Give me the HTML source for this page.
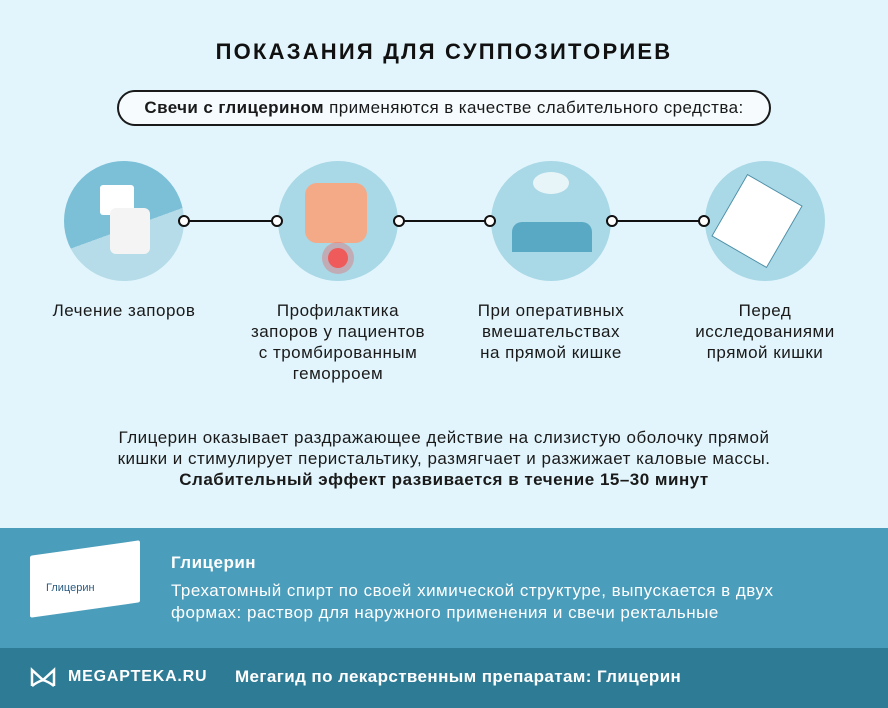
<!DOCTYPE html>
<html><head><meta charset="utf-8"><style>
body{margin:0;width:888px;height:708px;background:#e2f5fc;font-family:"Liberation Sans",sans-serif;color:#1a1a1a;position:relative;overflow:hidden}
.a{position:absolute}
.t{left:0;width:888px;top:39px;text-align:center;font-weight:bold;font-size:22px;letter-spacing:2.2px;color:#111}
.pill{left:117px;top:90px;width:650px;height:32px;border:2px solid #1a1a1a;border-radius:18px;background:#f6fcfe;text-align:center;line-height:32px;font-size:17px;letter-spacing:.4px}
.c{width:120px;height:120px;border-radius:50%;background:#a9d8e6;top:161px}
.lab{top:300px;width:220px;text-align:center;font-size:17px;line-height:21px;letter-spacing:.5px}
.p{left:0;width:888px;top:427px;text-align:center;font-size:17px;line-height:21px;letter-spacing:.5px}
</style></head><body>
<div class="a t">ПОКАЗАНИЯ ДЛЯ СУППОЗИТОРИЕВ</div>
<div class="a pill"><b>Свечи с глицерином</b> применяются в качестве слабительного средства:</div>
<div class="a c" style="left:64px;background:linear-gradient(160deg,#7cc0d8 0 55%,#b5dce8 55%)"></div>
<div class="a" style="left:100px;top:185px;width:34px;height:30px;background:#fff;border-radius:3px"></div>
<div class="a" style="left:110px;top:208px;width:40px;height:46px;background:#f4f4f4;border-radius:6px"></div>
<div class="a c" style="left:278px"></div>
<div class="a" style="left:305px;top:183px;width:62px;height:60px;background:#f4a987;border-radius:12px"></div>
<div class="a" style="left:328px;top:248px;width:20px;height:20px;background:#ef5a5a;border-radius:50%;box-shadow:0 0 0 6px rgba(239,90,90,.35)"></div>
<div class="a c" style="left:491px"></div>
<div class="a" style="left:512px;top:222px;width:80px;height:30px;background:#5aa9c4;border-radius:10px 10px 0 0"></div>
<div class="a" style="left:533px;top:172px;width:36px;height:22px;background:#e8f5f8;border-radius:50%"></div>
<div class="a c" style="left:705px"></div>
<div class="a" style="left:725px;top:185px;width:62px;height:70px;background:#fff;transform:rotate(30deg);border:1px solid #4a8fa8"></div>
<svg class="a" style="left:0;top:0" width="888" height="300">
<g stroke="#111" stroke-width="2" fill="#fff">
<line x1="184" y1="221" x2="277" y2="221"/><line x1="399" y1="221" x2="490" y2="221"/><line x1="612" y1="221" x2="704" y2="221"/>
<circle cx="184" cy="221" r="5"/><circle cx="277" cy="221" r="5"/><circle cx="399" cy="221" r="5"/><circle cx="490" cy="221" r="5"/><circle cx="612" cy="221" r="5"/><circle cx="704" cy="221" r="5"/>
</g></svg>
<div class="a lab" style="left:14px">Лечение запоров</div>
<div class="a lab" style="left:228px">Профилактика<br>запоров у пациентов<br>с тромбированным<br>геморроем</div>
<div class="a lab" style="left:441px">При оперативных<br>вмешательствах<br>на прямой кишке</div>
<div class="a lab" style="left:655px">Перед<br>исследованиями<br>прямой кишки</div>
<div class="a p">Глицерин оказывает раздражающее действие на слизистую оболочку прямой<br>кишки и стимулирует перистальтику, размягчает и разжижает каловые массы.<br><b>Слабительный эффект развивается в течение 15–30 минут</b></div>
<div class="a" style="left:0;top:528px;width:888px;height:120px;background:#4a9dbb"></div>
<div class="a" style="left:30px;top:548px;width:110px;height:62px;background:#fff;transform:skewY(-8deg);border-radius:2px"></div>
<div class="a" style="left:46px;top:582px;font-size:11px;color:#2a5a80">Глицерин</div>
<div class="a" style="left:171px;top:553px;color:#fff;font-weight:bold;font-size:17px;letter-spacing:.5px">Глицерин</div>
<div class="a" style="left:171px;top:580px;color:#fff;font-size:17px;line-height:22px;letter-spacing:.5px">Трехатомный спирт по своей химической структуре, выпускается в двух<br>формах: раствор для наружного применения и свечи ректальные</div>
<div class="a" style="left:0;top:648px;width:888px;height:60px;background:#2e7b95"></div>
<svg class="a" style="left:29px;top:666px" width="28" height="24"><path d="M3 20V4l11 10L25 4v16M3 20q5-4 11-6q6 2 11 6" stroke="#fff" stroke-width="2.5" fill="none"/></svg>
<div class="a" style="left:68px;top:668px;color:#fff;font-weight:bold;font-size:16px;letter-spacing:.8px">MEGAPTEKA.RU</div>
<div class="a" style="left:235px;top:667px;color:#fff;font-weight:bold;font-size:17px;letter-spacing:.4px">Мегагид по лекарственным препаратам: Глицерин</div>
</body></html>
